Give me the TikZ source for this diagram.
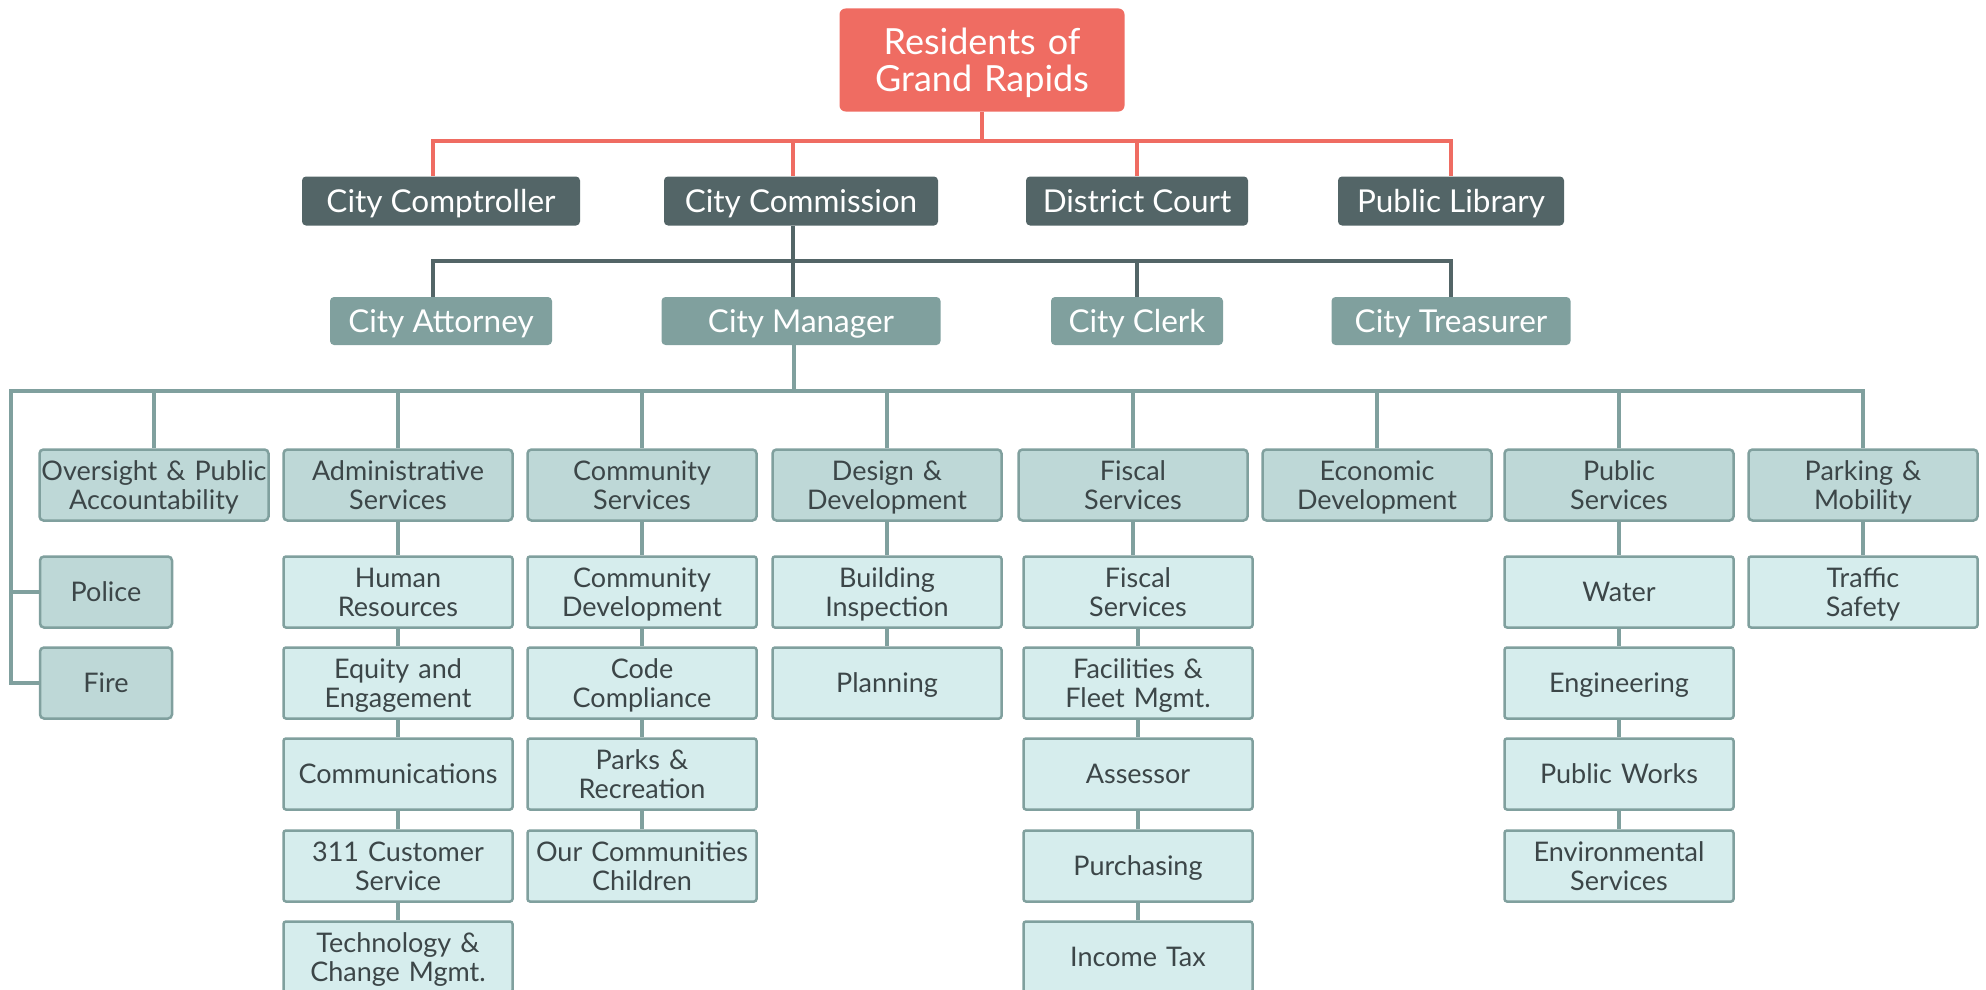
\documentclass[tikz,border=0pt]{standalone}
\usepackage{fontspec}
\setmainfont{Lato}
\usetikzlibrary{positioning}

\definecolor{resred}{HTML}{EF6C62}
\definecolor{hddark}{HTML}{536567}
\definecolor{offteal}{HTML}{80A09E}
\definecolor{deptfill}{HTML}{BED8D7}
\definecolor{unitfill}{HTML}{D6EDED}
\definecolor{boxtext}{HTML}{3C4648}

% strut that keeps capitals centred in a box
\newcommand{\capstrut}{\rule[-0.18em]{0pt}{1.08em}}
% fixed line pitch inside the boxes
\newcommand{\boxfont}[2]{\fontsize{#1}{#2}\selectfont\lineskiplimit=-\maxdimen}

\begin{document}
\begin{tikzpicture}[x=1pt, y=-1pt,
  every node/.style={execute at begin node=\capstrut, execute at end node=\capstrut},
  resbox/.style={fill=resred, rounded corners=6pt, minimum width=285pt,
                 minimum height=103pt, inner sep=0pt, text width=285pt,
                 align=center, text=white, font=\boxfont{36}{37}},
  hdbox/.style={fill=hddark, rounded corners=4pt, minimum height=49pt,
                inner sep=0pt, text=white, font=\boxfont{31.5}{34}},
  offbox/.style={hdbox, fill=offteal, minimum height=48pt},
  deptbox/.style={draw=offteal, line width=2.5pt, fill=deptfill, rounded corners=4pt,
                  minimum width=229pt, minimum height=71pt, inner sep=0pt,
                  text width=229pt, align=center, text=boxtext,
                  font=\boxfont{27}{29}},
  unitbox/.style={deptbox, fill=unitfill, rounded corners=2.5pt},
  redln/.style={draw=resred, line width=4pt},
  darkln/.style={draw=hddark, line width=4pt},
  tealln/.style={draw=offteal, line width=4.5pt},
]
\useasboundingbox (0,0) rectangle (1986,990);

% bus levels
\coordinate (rbus) at (0,141);
\coordinate (dbus) at (0,261);
\coordinate (tbus) at (11,391);

% top
\node[resbox] (res) at (982,60) {Residents of\\Grand Rapids};

\node[hdbox, minimum width=278pt] (cmp) at (441,201) {City Comptroller};
\node[hdbox, minimum width=274pt] (cmn) at (801,201) {City Commission};
\node[hdbox, minimum width=222pt] (crt) at (1137,201) {District Court};
\node[hdbox, minimum width=226pt] (lib) at (1451,201) {Public Library};

\node[offbox, minimum width=222pt] (att) at (441,321) {City Attorney};
\node[offbox, minimum width=279pt] (mgr) at (801,321) {City Manager};
\node[offbox, minimum width=172pt] (clk) at (1137,321) {City Clerk};
\node[offbox, minimum width=239pt] (trs) at (1451,321) {City Treasurer};

% drop points on the left-hand boxes
\coordinate (cmpN) at ([xshift=-8pt]cmp.north);
\coordinate (cmnN) at ([xshift=-8pt]cmn.north);
\coordinate (cmnS) at ([xshift=-8pt]cmn.south);
\coordinate (attN) at ([xshift=-8pt]att.north);
\coordinate (mgrN) at ([xshift=-8pt]mgr.north);
\coordinate (mgrS) at ([xshift=-7pt]mgr.south);

% departments
\node[deptbox] (ovr) at (154,485) {Oversight \& Public\\Accountability};
\node[deptbox] (adm) at (398,485) {Administrative\\Services};
\node[deptbox] (cms) at (642,485) {Community\\Services};
\node[deptbox] (dsg) at (887,485) {Design \&\\Development};
\node[deptbox] (fis) at (1133,485) {Fiscal\\Services};
\node[deptbox] (eco) at (1377,485) {Economic\\Development};
\node[deptbox] (pub) at (1619,485) {Public\\Services};
\node[deptbox] (prk) at (1863,485) {Parking \&\\Mobility};

\node[deptbox, minimum width=132pt, text width=132pt] (pol) at (106,592) {Police};
\node[deptbox, minimum width=132pt, text width=132pt] (fire) at (106,683) {Fire};

% units
\node[unitbox] (hr)   at (398,592) {Human\\Resources};
\node[unitbox] (eq)   at (398,683) {Equity and\\Engagement};
\node[unitbox] (comms) at (398,774) {Communications};
\node[unitbox] (csr)  at (398,866) {311 Customer\\Service};
\node[unitbox] (tech) at (398,957) {Technology \&\\Change Mgmt.};

\node[unitbox] (cdev) at (642,592) {Community\\Development};
\node[unitbox] (code) at (642,683) {Code\\Compliance};
\node[unitbox] (prks) at (642,774) {Parks \&\\Recreation};
\node[unitbox] (occ)  at (642,866) {Our Communities\\Children};

\node[unitbox] (bld)  at (887,592) {Building\\Inspection};
\node[unitbox] (plan) at (887,683) {Planning};

\node[unitbox] (fsv)  at (1138,592) {Fiscal\\Services};
\node[unitbox] (fac)  at (1138,683) {Facilities \&\\Fleet Mgmt.};
\node[unitbox] (asr)  at (1138,774) {Assessor};
\node[unitbox] (pur)  at (1138,866) {Purchasing};
\node[unitbox] (itax) at (1138,957) {Income Tax};

\node[unitbox] (wat)  at (1619,592) {Water};
\node[unitbox] (eng)  at (1619,683) {Engineering};
\node[unitbox] (pw)   at (1619,774) {Public Works};
\node[unitbox] (env)  at (1619,866) {Environmental\\Services};

\node[unitbox] (trf)  at (1863,592) {Traffic\\Safety};

% residents -> elected / independent
\draw[redln] (cmpN) |- (rbus -| lib.north) -- (lib.north);
\foreach \n in {res.south, cmnN, crt.north}
  \draw[redln] (\n) -- (\n |- rbus);

% commission -> officers
\draw[darkln] (attN) |- (dbus -| trs.north) -- (trs.north);
\foreach \n in {cmnS, mgrN, clk.north}
  \draw[darkln] (\n) -- (\n |- dbus);

% manager -> departments
\draw[tealln] (fire.west) -| (tbus) -- (tbus -| prk.north) -- (prk.north);
\draw[tealln] (pol.west) -- (pol.west -| tbus);
\foreach \n in {mgrS, ovr.north, adm.north, cms.north, dsg.north,
                fis.north, eco.north, pub.north}
  \draw[tealln] (\n) -- (\n |- tbus);

% department chains
\draw[tealln] (fis.south) -- (fis.south |- fsv.north);
\foreach \a/\b in {adm/hr, hr/eq, eq/comms, comms/csr, csr/tech,
                   cms/cdev, cdev/code, code/prks, prks/occ,
                   dsg/bld, bld/plan,
                   fsv/fac, fac/asr, asr/pur, pur/itax,
                   pub/wat, wat/eng, eng/pw, pw/env,
                   prk/trf}
  \draw[tealln] (\a) -- (\b);
\end{tikzpicture}
\end{document}
